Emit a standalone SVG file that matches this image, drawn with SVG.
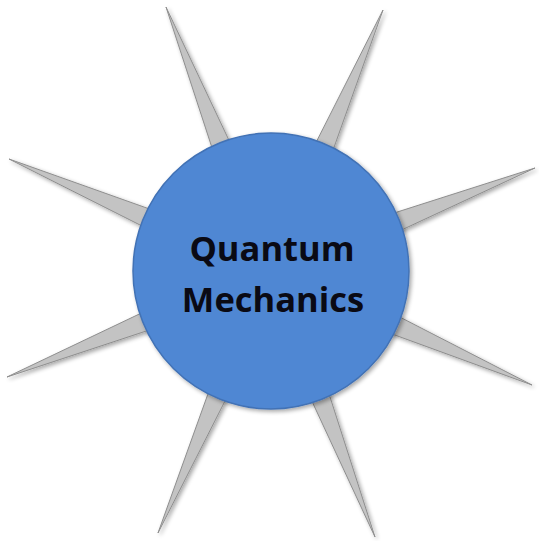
<svg xmlns="http://www.w3.org/2000/svg" width="539" height="541" viewBox="0 0 539 541">
  <defs>
    <filter id="shadow" x="-20%" y="-20%" width="140%" height="140%">
      <feGaussianBlur in="SourceAlpha" stdDeviation="2"/>
      <feOffset dx="2" dy="2" result="b"/>
      <feComponentTransfer><feFuncA type="linear" slope="0.35"/></feComponentTransfer>
      <feMerge><feMergeNode/><feMergeNode in="SourceGraphic"/></feMerge>
    </filter>
  </defs>
  <style>
    .spike { fill: #c3c3c3; stroke: #8e8e8e; stroke-width: 1; stroke-linejoin: round; }
    .hub { fill: #4f87d3; stroke: #4272b5; stroke-width: 1.5; }
    .label { font-family: "Open Sans", "Liberation Sans", sans-serif; font-weight: bold; font-size: 34.5px; fill: #0a0a14; text-anchor: middle; }
  </style>
  <rect width="539" height="541" fill="#ffffff"/>
  <g id="spikes" filter="url(#shadow)">
    <polygon class="spike" points="166,7 234.1,151.1 215.5,158.5"/>
    <polygon class="spike" points="383,10 329.5,160.0 311.1,152.2"/>
    <polygon class="spike" points="9,159 159.9,212.7 152.1,231.1"/>
    <polygon class="spike" points="7,377 151.3,308.3 158.7,326.9"/>
    <polygon class="spike" points="535,168 391.0,234.9 383.8,216.3"/>
    <polygon class="spike" points="532,385 381.6,330.2 389.6,311.8"/>
    <polygon class="spike" points="158,533 212.3,381.8 230.7,389.8"/>
    <polygon class="spike" points="375,537 307.2,391.0 325.8,383.8"/>
  </g>
  <g id="quantum-mechanics">
    <circle class="hub" cx="271" cy="271" r="138" filter="url(#shadow)"/>
    <text class="label" x="272" y="261">Quantum</text>
    <text class="label" x="273" y="312">Mechanics</text>
  </g>
</svg>
